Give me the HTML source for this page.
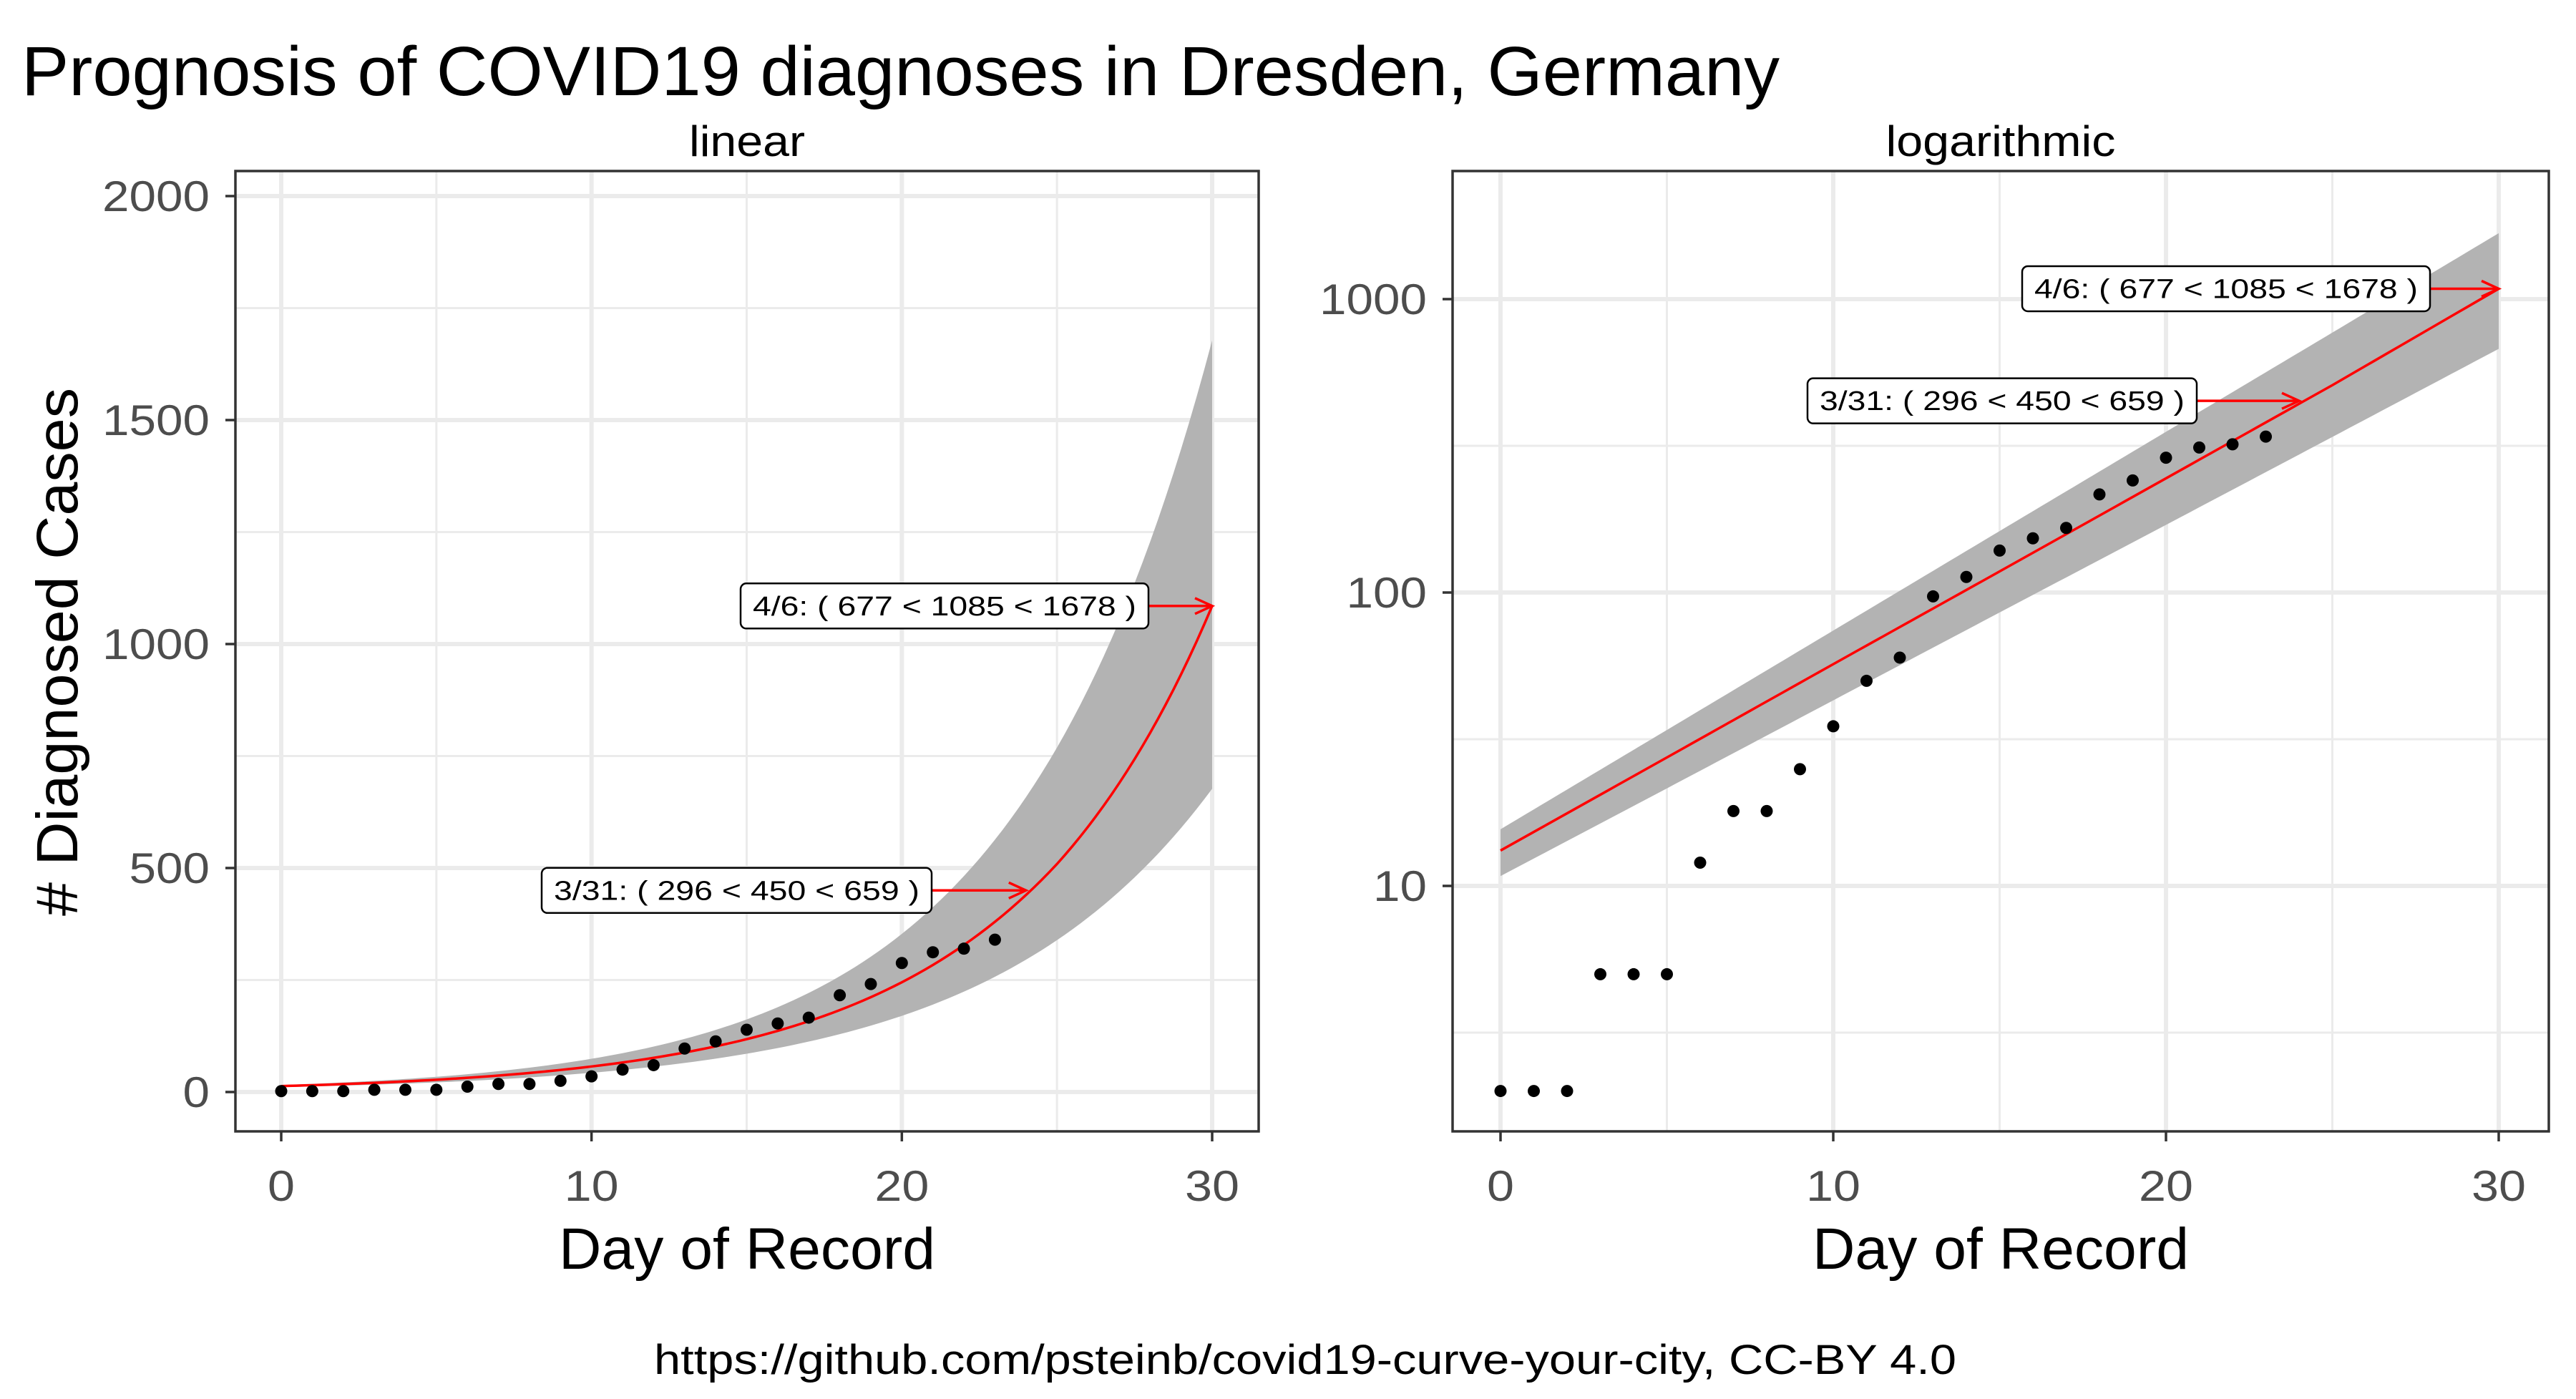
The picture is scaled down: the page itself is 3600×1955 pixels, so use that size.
<!DOCTYPE html>
<html><head><meta charset="utf-8"><style>
html,body{margin:0;padding:0;background:#fff;}
svg text{font-family:"Liberation Sans",sans-serif;}
</style></head><body>
<svg id="chart" xmlns="http://www.w3.org/2000/svg" width="3600" height="1950" viewBox="0 0 3600 1950">
<rect width="3600" height="1950" fill="#fff"/>
<text x="30" y="133" font-size="97" textLength="2457" lengthAdjust="spacingAndGlyphs">Prognosis of COVID19 diagnoses in Dresden, Germany</text>
<text x="1824" y="1920" font-size="58" text-anchor="middle" textLength="1820" lengthAdjust="spacingAndGlyphs">https://github.com/psteinb/covid19-curve-your-city, CC-BY 4.0</text>
<text transform="translate(108,911) rotate(-90)" font-size="82" text-anchor="middle" textLength="738" lengthAdjust="spacingAndGlyphs"># Diagnosed Cases</text>
<g id="left"></g>
<g id="right"></g>
</svg>
<script>
const days = [0,1,2,3,4,5,6,7,8,9,10,11,12,13,14,15,16,17,18,19,20,21,22,23];
const cases = [2,2,2,5,5,5,12,18,18,25,35,50,60,97,113,139,153,166,216,241,288,312,320,340];
const bandDays = [0,5,10,15,20,25,30];
const fitValues = [13.2,27.4,57,118,245,509,1085];
const upperValues = [15.6,34,74.2,162,353,769,1678];
const lowerValues = [10.8,21.5,42.9,85.5,170,339,677];
const xTicks = [0,10,20,30];
const linYTicks = [0,500,1000,1500,2000];
const logYTicks = [10,100,1000];
const annDays = [24,30];
const annValues = [450,1085];
const annLabels = ["3/31: ( 296 < 450 < 659 )","4/6: ( 677 < 1085 < 1678 )"];

const NS="http://www.w3.org/2000/svg";
function mk(parent,tag,attrs){const e=document.createElementNS(NS,tag);for(const k in attrs)e.setAttribute(k,attrs[k]);parent.appendChild(e);return e;}
function interp(arr,t){
  let i=Math.min(Math.floor(t/5),bandDays.length-2);
  const f=(t-bandDays[i])/(bandDays[i+1]-bandDays[i]);
  return Math.exp(Math.log(arr[i])*(1-f)+Math.log(arr[i+1])*f);
}
function panel(g,cfg){
  const {L,R,T,B,x,y,log,name}=cfg;
  mk(g,'rect',{x:L,y:T,width:R-L,height:B-T,fill:'#fff'});
  const grid=mk(g,'g',{});
  
  
  for(let d=5;d<=30;d+=10){mk(grid,'line',{x1:x(d),x2:x(d),y1:T,y2:B,stroke:'#ebebeb','stroke-width':3});}
  xTicks.forEach(d=>mk(grid,'line',{x1:x(d),x2:x(d),y1:T,y2:B,stroke:'#ebebeb','stroke-width':6}));
  if(log){
    [Math.sqrt(10),Math.sqrt(1000),Math.sqrt(100000)].forEach(v=>{if(y(v)>T)mk(grid,'line',{x1:L,x2:R,y1:y(v),y2:y(v),stroke:'#ebebeb','stroke-width':3});});
    logYTicks.forEach(v=>mk(grid,'line',{x1:L,x2:R,y1:y(v),y2:y(v),stroke:'#ebebeb','stroke-width':6}));
  } else {
    [250,750,1250,1750].forEach(v=>mk(grid,'line',{x1:L,x2:R,y1:y(v),y2:y(v),stroke:'#ebebeb','stroke-width':3}));
    linYTicks.forEach(v=>mk(grid,'line',{x1:L,x2:R,y1:y(v),y2:y(v),stroke:'#ebebeb','stroke-width':6}));
  }
  let up=[],lo=[],fit=[];
  for(let t=0;t<=30.001;t+=0.25){up.push(x(t)+','+y(interp(upperValues,t)));lo.push(x(t)+','+y(interp(lowerValues,t)));fit.push(x(t)+','+y(interp(fitValues,t)));}
  const band=mk(g,'polygon',{points:up.concat(lo.reverse()).join(' '),fill:'#b3b3b3'});
  
  
  const fl=mk(g,'polyline',{points:fit.join(' '),fill:'none',stroke:'#ff0000','stroke-width':3.5});
  
  
  days.forEach((d,i)=>{
    const c=mk(g,'circle',{cx:x(d),cy:y(cases[i]),r:8.5,fill:'#000'});
    
    
  });
  annDays.forEach((d,i)=>{
    const tx=x(d), ty=y(annValues[i]);
    const w=cfg.boxW[i], bx=cfg.boxR[i]-w, h=63;
    const ar=mk(g,'line',{x1:cfg.boxR[i],x2:tx,y1:ty,y2:ty,stroke:'#ff0000','stroke-width':3.5});
    
    
    mk(g,'polyline',{points:(tx-24)+','+(ty-11)+' '+tx+','+ty+' '+(tx-24)+','+(ty+11),fill:'none',stroke:'#ff0000','stroke-width':3.5});
    const box=mk(g,'rect',{x:bx,y:ty-h/2,width:w,height:h,rx:8,fill:'#fff',stroke:'#000','stroke-width':2.5});
    
    
    const t=mk(g,'text',{x:bx+w/2,y:ty+13,'font-size':38,'text-anchor':'middle',textLength:w-34,lengthAdjust:'spacingAndGlyphs'});
    t.textContent=annLabels[i];
    
    
  });
  mk(g,'rect',{x:L,y:T,width:R-L,height:B-T,fill:'none',stroke:'#333','stroke-width':3.5});
  xTicks.forEach(d=>{
    mk(g,'line',{x1:x(d),x2:x(d),y1:B,y2:B+14,stroke:'#333','stroke-width':3.5});
    const s=String(d);
    const t=mk(g,'text',{x:x(d),y:B+97,'font-size':60,'text-anchor':'middle',fill:'#4d4d4d',textLength:38*s.length,lengthAdjust:'spacingAndGlyphs'});
    t.textContent=s;
    
    
  });
  (log?logYTicks:linYTicks).forEach(v=>{
    mk(g,'line',{x1:L-14,x2:L,y1:y(v),y2:y(v),stroke:'#333','stroke-width':3.5});
    const s=String(v);
    const t=mk(g,'text',{x:L-36,y:y(v)+21,'font-size':60,'text-anchor':'end',fill:'#4d4d4d',textLength:37.5*s.length,lengthAdjust:'spacingAndGlyphs'});
    t.textContent=s;
    
    
  });
  const xt=mk(g,'text',{x:(L+R)/2,y:1773,'font-size':82,'text-anchor':'middle',textLength:526,lengthAdjust:'spacingAndGlyphs'});
  xt.textContent='Day of Record';
  
  
  const st=mk(g,'text',{x:(L+R)/2,y:218,'font-size':60,'text-anchor':'middle',textLength:log?321:162,lengthAdjust:'spacingAndGlyphs'});
  st.textContent=log?'logarithmic':'linear';
  
  
}
const lx=d=>393+d*(1694-393)/30;
const ly=v=>1526-v*(1526-274)/2000;
panel(document.getElementById('left'),{L:329,R:1759,T:239,B:1581,x:lx,y:ly,log:false,name:'linear',boxR:[1302,1605],boxW:[545,570]});
const rx=d=>2097+d*(3492-2097)/30;
const ry=v=>828-(Math.log10(v)-2)*410;
panel(document.getElementById('right'),{L:2030,R:3562,T:239,B:1581,x:rx,y:ry,log:true,name:'logarithmic',boxR:[3070,3396],boxW:[544,570]});
</script>
</body></html>
